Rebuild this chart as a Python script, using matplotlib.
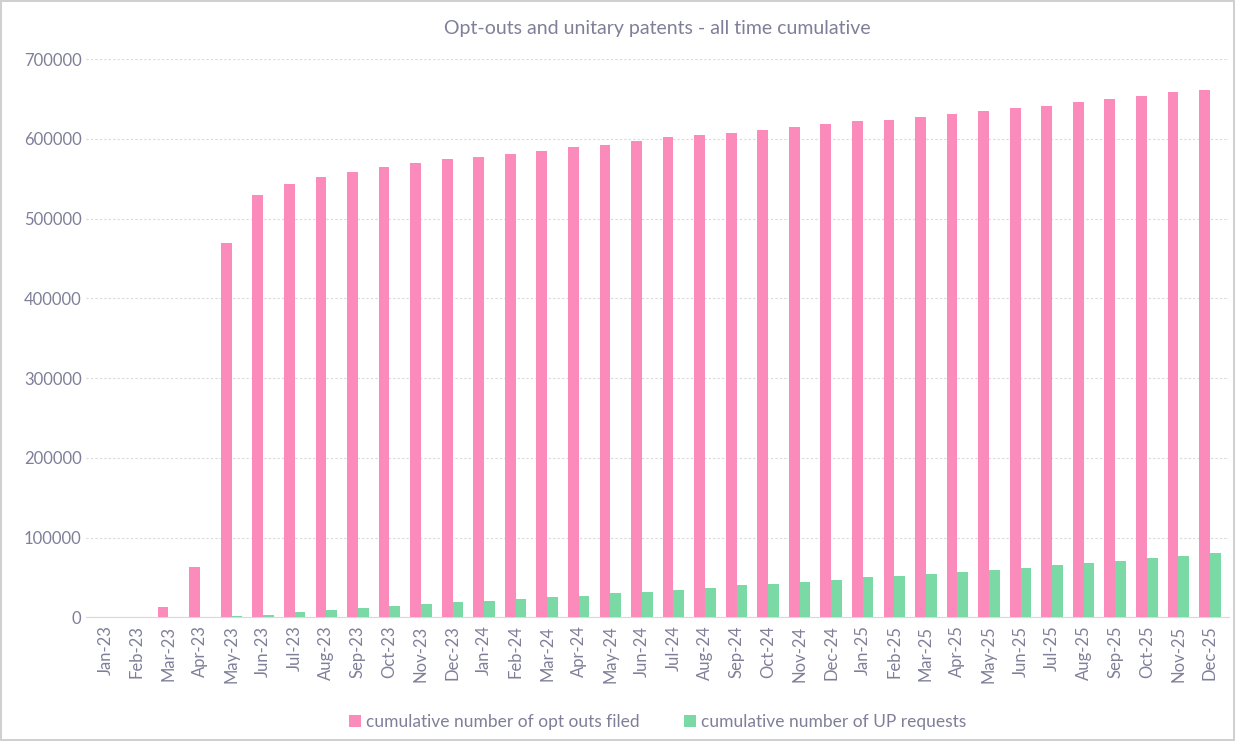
import matplotlib.pyplot as plt
import numpy as np

months = ['Jan-23', 'Feb-23', 'Mar-23', 'Apr-23', 'May-23', 'Jun-23', 'Jul-23', 'Aug-23', 'Sep-23',
          'Oct-23', 'Nov-23', 'Dec-23', 'Jan-24', 'Feb-24', 'Mar-24', 'Apr-24', 'May-24', 'Jun-24',
          'Jul-24', 'Aug-24', 'Sep-24', 'Oct-24', 'Nov-24', 'Dec-24', 'Jan-25', 'Feb-25', 'Mar-25',
          'Apr-25', 'May-25', 'Jun-25', 'Jul-25', 'Aug-25', 'Sep-25', 'Oct-25', 'Nov-25', 'Dec-25']
opt_outs = [200, 600, 12500, 63000, 469000, 530000, 543000, 552000, 558000, 565000, 570000, 575000,
            578000, 581000, 585000, 590000, 593000, 597000, 602000, 605000, 607000, 611000, 615000,
            619000, 622000, 624000, 627000, 631000, 635000, 639000, 642000, 646000, 650000, 654000,
            659000, 662000]
up_requests = [0, 0, 0, 500, 1000, 2500, 6000, 9000, 12000, 14000, 17000, 19000, 21000, 23000, 25000,
               27000, 30000, 32000, 34000, 37000, 40000, 42000, 44000, 47000, 50000, 52000, 54000,
               57000, 59000, 62000, 65000, 68000, 71000, 74000, 77000, 80000]

plt.rcParams['font.family'] = ['Lato', 'DejaVu Sans']
grey = '#7f7f99'

fig, ax = plt.subplots(figsize=(12.35, 7.41), dpi=100)
fig.patch.set_edgecolor('#d0d0d0')
fig.patch.set_linewidth(1.5)

x = np.arange(len(months))
w = 0.34
ax.bar(x - w / 2, opt_outs, w, color='#fb8bbb', label='cumulative number of opt outs filed', zorder=3)
ax.bar(x + w / 2, up_requests, w, color='#7ad9a4', label='cumulative number of UP requests', zorder=3)

ax.set_ylim(0, 700000)
ax.set_yticks(np.arange(0, 700001, 100000))
ax.set_xlim(-0.6, len(months) - 0.4)
ax.set_xticks(x)
ax.set_xticklabels(months, rotation=90)
ax.tick_params(colors=grey, labelsize=12, length=0)
ax.tick_params(axis='x', pad=6)
ax.grid(axis='y', color='#d9d9d9', linestyle=(0, (2, 2)), linewidth=0.8, zorder=0)
for s in ['top', 'right', 'left']:
    ax.spines[s].set_visible(False)
ax.spines['bottom'].set_color('#d9d9d9')

ax.set_title('Opt-outs and unitary patents - all time cumulative', color=grey, fontsize=14, pad=18)
ax.legend(loc='upper center', bbox_to_anchor=(0.5, -0.145), ncol=2, frameon=False,
          fontsize=12.5, labelcolor=grey, handlelength=0.7, handleheight=0.7,
          handletextpad=0.3, columnspacing=2.5)

fig.subplots_adjust(left=0.07, right=0.995, top=0.92, bottom=0.167)
plt.savefig('out.png')
